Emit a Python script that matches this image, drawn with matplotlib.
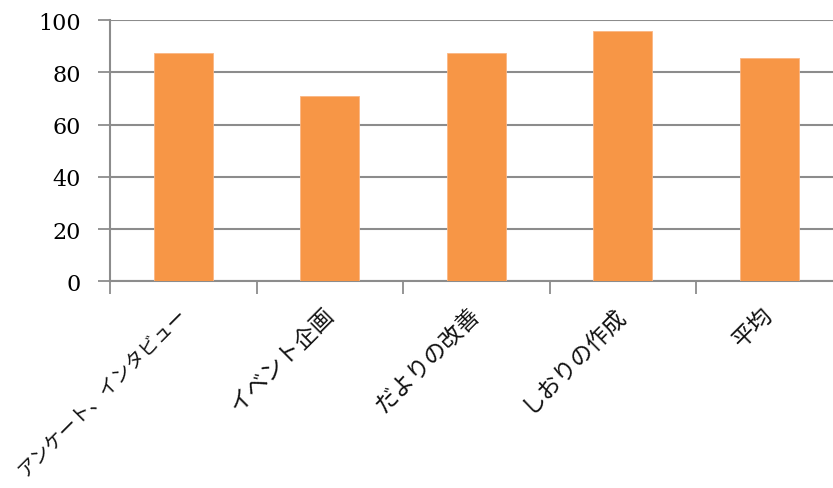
import matplotlib
matplotlib.use("Agg")
import matplotlib.pyplot as plt

categories = ["アンケート、インタビュー", "イベント企画", "だよりの改善", "しおりの作成", "平均"]
values = [87.5, 70.8, 87.5, 95.8, 85.4]
yticks = [0, 20, 40, 60, 80, 100]

fig = plt.figure(figsize=(8.33, 4.89), dpi=100)
# axes spans beyond right edge as in the reference
left = 110 / 833
right = 842.5 / 833
bottom = 1 - 282.3 / 489
top = 1 - 21 / 489
ax = fig.add_axes([left, bottom, right - left, top - bottom])

x = list(range(len(categories)))
ax.bar(x, values, width=0.4, color="#F79646", edgecolor="#FAB683", linewidth=0.6, zorder=3)

ax.set_xlim(-0.5, len(categories) - 0.5)
ax.set_ylim(0, 100)
ax.set_yticks(yticks)
ax.set_yticklabels([str(t) for t in yticks], family=["DejaVu Serif"], fontsize=16)

ax.set_xticks([i - 0.5 for i in range(len(categories))] + [len(categories) - 0.5], minor=False)
ax.set_xticklabels([])
ax.set_xticks(x, minor=True)
labels = ax.set_xticklabels(categories, minor=True, rotation=45, ha="right", va="center",
                            rotation_mode="anchor", fontsize=16.5,
                            family=["Noto Sans CJK JP", "DejaVu Sans"], color="#111111")
# the long katakana label is set tighter in the reference (proportional font)
labels[0].set_fontsize(13.8)
ax.tick_params(axis="x", which="minor", length=0, pad=21)
ax.tick_params(axis="x", which="major", length=9, width=1.3, color="#8c8c8c")
ax.tick_params(axis="y", length=9, width=1.3, color="#8c8c8c", pad=12)

ax.yaxis.grid(True, color="#8c8c8c", linewidth=1.5, zorder=0)
for s in ["top", "right"]:
    ax.spines[s].set_visible(False)
for s in ["left", "bottom"]:
    ax.spines[s].set_color("#8c8c8c")
    ax.spines[s].set_linewidth(1.5)

fig.savefig("out.png", dpi=100)
